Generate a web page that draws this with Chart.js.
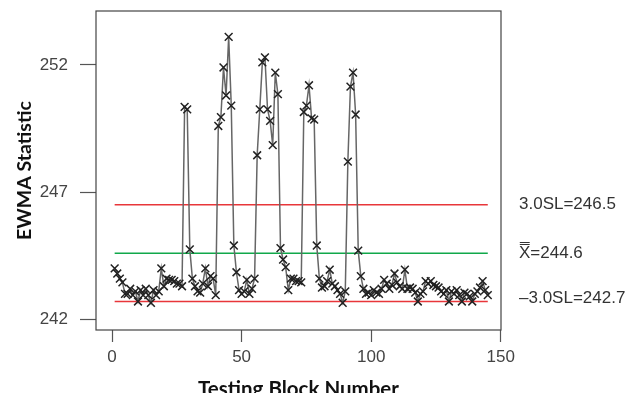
<!DOCTYPE html>
<html>
<head>
<meta charset="utf-8">
<script src="https://cdn.jsdelivr.net/npm/chart.js@4.4.0/dist/chart.umd.min.js"></script>
<style>
  html, body { margin: 0; padding: 0; background: #fff; }
</style>
</head>
<body>
<canvas id="chartEwma" width="625" height="393"></canvas>
<script>
// EWMA statistic per testing block (block 1..145)
const ewma = [
  244.0, 243.8, 243.6, 243.45, 243.0, 243.0, 243.2, 242.95, 243.1, 242.7,
  243.15, 242.95, 243.2, 242.95, 242.65, 243.15, 242.95, 243.1, 244.0, 243.3,
  243.6, 243.55, 243.55, 243.5, 243.4, 243.4, 243.3, 250.35, 250.25, 244.75,
  243.6, 243.3, 243.1, 243.05, 243.4, 244.0, 243.3, 243.7, 243.6, 242.95,
  249.6, 249.95, 251.9, 250.8, 253.1, 250.4, 244.9, 243.85, 243.15, 243.0,
  243.1, 243.55, 243.0, 243.2, 243.6, 248.45, 250.25, 252.1, 252.3, 250.25,
  249.8, 248.85, 251.7, 250.85, 244.8, 244.35, 244.05, 243.15, 243.6, 243.6,
  243.5, 243.5, 243.45, 250.15, 250.4, 251.2, 249.9, 249.85, 244.9, 243.6,
  243.25, 243.3, 243.5, 243.95, 243.4, 243.3, 243.15, 243.0, 242.65, 243.1,
  248.2, 251.15, 251.7, 250.05, 244.7, 243.7, 243.2, 243.0, 243.05, 242.95,
  243.15, 243.05, 243.0, 243.2, 243.55, 243.4, 243.2, 243.35, 243.8, 243.45,
  243.3, 243.2, 243.95, 243.2, 243.25, 243.2, 243.05, 242.7, 243.0, 243.1,
  243.5, 243.4, 243.5, 243.35, 243.3, 243.25, 243.1, 243.0, 243.15, 242.7,
  243.1, 243.0, 243.15, 242.95, 242.7, 243.05, 243.0, 242.9, 242.7, 243.0,
  243.1, 243.25, 243.5, 243.15, 242.95
];

const ucl = 246.5;
const centerLine = 244.6;
const lcl = 242.7;
const limitLabels = ["3.0SL=246.5", "X\u033F=244.6", "\u20133.0SL=242.7"];

const xTicks = [0, 50, 100, 150];
const yTicks = [242, 247, 252];

const firstBlock = 1;
const lastBlock = ewma.length;

const points = ewma.map((v, i) => ({ x: i + 1, y: v }));
const limitLine = (v) => [{ x: firstBlock, y: v }, { x: lastBlock, y: v }];

const TICK_FONT = { family: "'Liberation Sans', Arial, sans-serif", size: 17 };

// fixed axis sizes, no label overhang padding
function fixSize(s, w, h) {
    if (w) s.width = w;
    if (h) s.height = h;
    s.paddingTop = 0; s.paddingBottom = 0; s.paddingLeft = 0; s.paddingRight = 0;
}

const boxAndLabels = {
    id: "boxAndLabels",
    afterDraw(chart) {
        const { ctx, chartArea: a, scales } = chart;
        ctx.save();
        ctx.strokeStyle = "#444";
        ctx.lineWidth = 1.2;
        ctx.strokeRect(a.left, a.top, a.right - a.left, a.bottom - a.top);

        ctx.font = "17px 'Liberation Sans', Arial, sans-serif";
        ctx.fillStyle = "#333";
        ctx.textAlign = "left";
        ctx.textBaseline = "middle";
        const ys = [ucl, centerLine, lcl].map(v => scales.y.getPixelForValue(v));
        const nudge = [-1, 0, -3];
        limitLabels.forEach((t, i) => ctx.fillText(t, 519, ys[i] + nudge[i]));
        ctx.restore();
    },
};

new Chart(document.getElementById("chartEwma"), {
    type: "line",
    data: {
        datasets: [
            {
                label: "EWMA", data: points,
                borderColor: "#666", borderWidth: 1.5,
                pointStyle: "crossRot", pointRadius: 5.5, pointBorderColor: "#222", pointBorderWidth: 1.5,
                tension: 0, fill: false,
            },
            { label: "UCL", data: limitLine(ucl), borderColor: "#e8363a", borderWidth: 1.5, pointRadius: 0 },
            { label: "CL",  data: limitLine(centerLine), borderColor: "#10a84a", borderWidth: 1.5, pointRadius: 0 },
            { label: "LCL", data: limitLine(lcl), borderColor: "#e8363a", borderWidth: 1.5, pointRadius: 0 },
        ],
    },
    options: {
        responsive: false, animation: false,
        layout: { padding: { top: 11, right: 124, bottom: 0, left: 0 } },
        scales: {
            x: {
                type: "linear", min: -6.2, max: 150.1,
                afterBuildTicks: s => { s.ticks = xTicks.map(v => ({ value: v })); },
                afterFit: s => fixSize(s, 0, 63),
                grid: { drawOnChartArea: false, tickLength: 12, color: "#555", tickWidth: 1.2 },
                border: { display: false },
                ticks: { font: TICK_FONT, color: "#444", padding: 5, maxRotation: 0 },
                title: {
                    display: true, text: "Testing Block Number", color: "#111",
                    font: { family: "Lato, 'Open Sans', sans-serif", size: 20.5, weight: "bold" },
                    padding: { top: 0, bottom: -9 },
                },
            },
            y: {
                min: 241.58, max: 254.12,
                afterBuildTicks: s => { s.ticks = yTicks.map(v => ({ value: v })); },
                afterFit: s => fixSize(s, 96, 0),
                grid: { drawOnChartArea: false, tickLength: 16, color: "#555", tickWidth: 1.2 },
                border: { display: false },
                ticks: { font: TICK_FONT, color: "#444", padding: 12 },
                title: {
                    display: true, text: "EWMA Statistic", color: "#111",
                    font: { family: "Lato, 'Open Sans', sans-serif", size: 19.5, weight: "bold" },
                    padding: { top: 13, bottom: 0 },
                },
            },
        },
        plugins: { legend: { display: false }, tooltip: { enabled: false } },
    },
    plugins: [boxAndLabels],
});
</script>
</body>
</html>
